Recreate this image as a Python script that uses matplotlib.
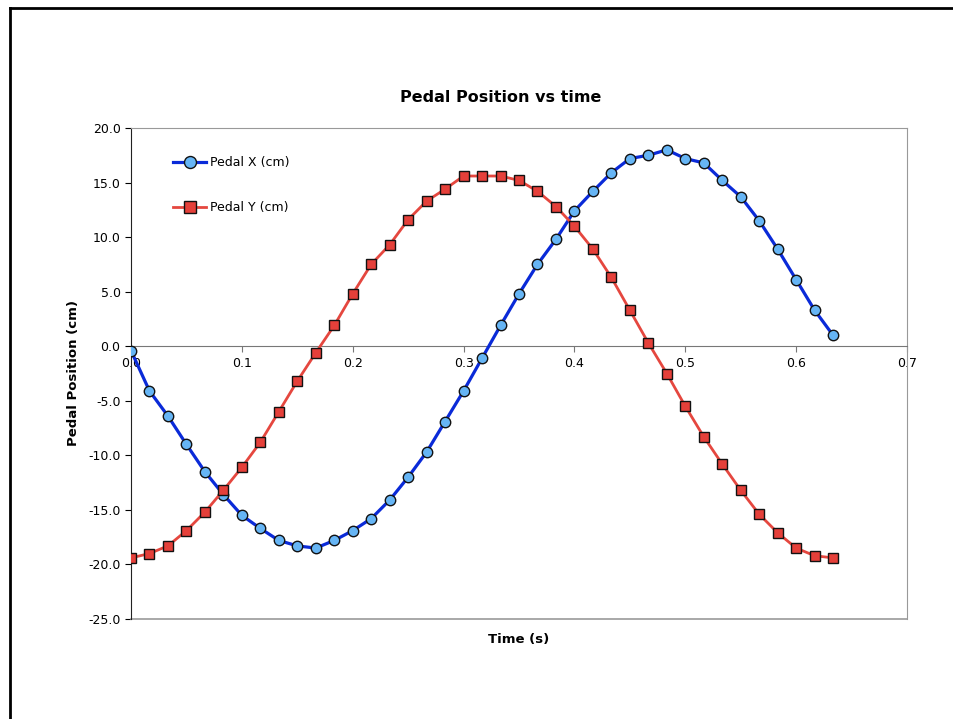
import numpy as np
import matplotlib
matplotlib.use("Agg")
import matplotlib.pyplot as plt
from matplotlib.lines import Line2D

# time samples (s), 60 Hz
time_s = [i / 60 for i in range(39)]

pedal_x = [-0.4, -4.1, -6.4, -9.0, -11.5, -13.6, -15.5, -16.7, -17.8, -18.3,
           -18.5, -17.8, -16.9, -15.8, -14.1, -12.0, -9.7, -6.9, -4.1, -1.1,
           1.9, 4.8, 7.5, 9.8, 12.4, 14.2, 15.9, 17.2, 17.5, 18.0,
           17.2, 16.8, 15.2, 13.7, 11.5, 8.9, 6.1, 3.3, 1.0]

pedal_y = [-19.4, -19.0, -18.3, -16.9, -15.2, -13.2, -11.1, -8.8, -6.0, -3.2,
           -0.6, 1.9, 4.8, 7.5, 9.3, 11.6, 13.3, 14.4, 15.6, 15.6,
           15.6, 15.2, 14.2, 12.8, 11.0, 8.9, 6.3, 3.3, 0.3, -2.5,
           -5.5, -8.3, -10.8, -13.2, -15.4, -17.1, -18.5, -19.2, -19.4]

xticks = [0.0, 0.1, 0.2, 0.3, 0.4, 0.5, 0.6, 0.7]
yticks = [-25, -20, -15, -10, -5, 0, 5, 10, 15, 20]

plt.rcParams['font.family'] = ['DejaVu Sans']

fig = plt.figure(figsize=(9.54, 7.19), dpi=100)
ax = fig.add_axes([131 / 954, 1 - 619 / 719, 776 / 954, 491 / 719])

ax.plot(time_s, pedal_x, color='#0a2ad8', lw=2.3, marker='o', ms=7.5,
        mfc='#66b5f5', mec='#111111', mew=1.0, label='Pedal X (cm)', zorder=3)
ax.plot(time_s, pedal_y, color='#e5473f', lw=2.0, marker='s', ms=7,
        mfc='#e5403a', mec='#111111', mew=1.0, label='Pedal Y (cm)', zorder=3)

ax.set_xlim(0, 0.7)
ax.set_ylim(-25, 20)
ax.set_xticks(xticks)
ax.set_xticklabels(['%.1f' % v for v in xticks])
ax.set_yticks(yticks)
ax.set_yticklabels(['%.1f' % v for v in yticks])

# x axis sits at y = 0, frame around the plot area in gray
ax.spines['bottom'].set_position(('data', 0))
ax.spines['bottom'].set_color('#777777')
ax.spines['left'].set_color('#222222')
ax.spines['top'].set_color('#999999')
ax.spines['right'].set_color('#999999')
ax.axhline(-25, color='#999999', lw=1.2, clip_on=False)
ax.tick_params(axis='both', direction='out', length=4, labelsize=9, width=0.8)
ax.tick_params(axis='x', colors='#777777', labelcolor='black', pad=4)

ax.legend(loc='upper left', bbox_to_anchor=(0.04, 0.965), frameon=False,
          fontsize=9, handlelength=2.6, labelspacing=2.55, handletextpad=0.3,
          markerscale=1.15)

fig.text(501 / 954, 1 - 98 / 719, 'Pedal Position vs time', ha='center',
         va='center', fontsize=11.5, fontweight='bold')
fig.text(519 / 954, 1 - 640 / 719, 'Time (s)', ha='center', va='center',
         fontsize=9.5, fontweight='bold')
fig.text(74 / 954, 1 - 373 / 719, 'Pedal Position (cm)', ha='center',
         va='center', rotation=90, fontsize=9.5, fontweight='bold')

# outer page frame (top and left edges)
fig.add_artist(Line2D([10 / 954, 1.0], [1 - 8 / 719, 1 - 8 / 719],
                      transform=fig.transFigure, color='black', lw=2))
fig.add_artist(Line2D([10 / 954, 10 / 954], [0, 1 - 8 / 719],
                      transform=fig.transFigure, color='black', lw=2))

fig.savefig('out.png', dpi=100)
